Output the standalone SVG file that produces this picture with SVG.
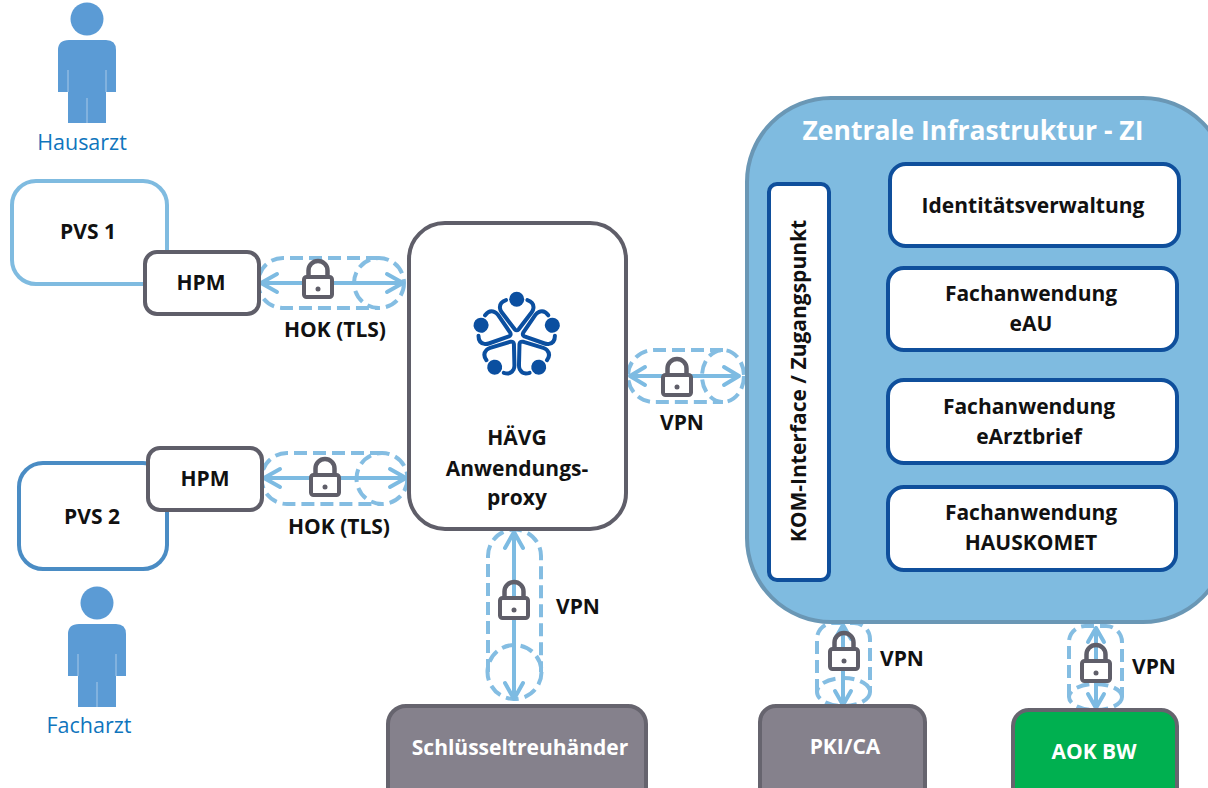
<svg xmlns="http://www.w3.org/2000/svg" width="1208" height="788" viewBox="0 0 1208 788">
<style>
text{font-family:"Open Sans","Noto Sans","Liberation Sans",sans-serif;font-weight:700;font-size:21px;fill:#111;text-anchor:middle}
.w{fill:#fff}
.role{font-weight:400;font-size:21.500px;fill:#0f75bd}
.box{fill:#fff;stroke:#5f5e69;stroke-width:4}
.dark{fill:#85818c;stroke:#66646e;stroke-width:4}
.app{fill:#fff;stroke:#0f4f9c;stroke-width:4}
.tun{fill:none;stroke:#84bde2;stroke-width:4;stroke-dasharray:13 6}
.arr{fill:none;stroke:#7dbbe2;stroke-width:4;stroke-linecap:round;stroke-linejoin:round}
.lb{fill:#fff;stroke:#5f5e69;stroke-width:4;stroke-linejoin:round}
.logo{fill:none;stroke:#0b4fa0;stroke-width:4;stroke-linecap:round;stroke-linejoin:round}
</style>
<defs>
<g id="lock">
<path d="M-9.500 -8V-14.500A9.500 9.500 0 0 1 9.500 -14.500V-8" fill="none" stroke="#5f5e69" stroke-width="4.500"/>
<rect class="lb" x="-14" y="-8" width="28" height="20" rx="2.500"/>
<circle cx="0" cy="4" r="2.500" fill="#5f5e69"/>
</g>
<g id="person">
<circle cx="0" cy="0" r="16.500" fill="#5b9bd5"/>
<path d="M-18 21H19Q29 21 29 31V73H19V104H-19V73H-29V31Q-29 21 -18 21Z" fill="#5b9bd5"/>
<path d="M-19 51V73M19 51V73M0 79V104" stroke="#a9c9e8" stroke-width="1" fill="none"/>
</g>
<g id="steth">
<circle cx="0" cy="-37.500" r="7.500" fill="#0b4fa0"/>
<path class="logo" d="M-10.700 -36.700Q-17.500 -34.500 -16.700 -28.500Q-16.500 -26.500 -15 -24.500L-2 -7.500Q0 -5.500 2 -7.500L15 -24.500Q16.500 -26.500 16.700 -28.500Q17.500 -34.500 10.700 -36.700"/>
</g>
</defs>

<g id="connectors">
<path class="tun" d="M379 258H283A25 25 0 0 0 283 308H379"/><circle class="tun" cx="379" cy="283" r="25"/>
<path class="arr" d="M261 283H403M277 274L261 283L277 292M387 274L403 283L387 292"/>
<path class="tun" d="M383 453H287A25.500 25.500 0 0 0 287 504H383"/><circle class="tun" cx="382" cy="478.500" r="25.500"/>
<path class="arr" d="M264 478H406M280 469L264 478L280 487M390 469L406 478L390 487"/>
<path class="tun" d="M723 350H654A26 26 0 0 0 654 402H723"/><ellipse class="tun" cx="723" cy="376" rx="21" ry="26"/>
<path class="arr" d="M630 376H739M645 367L630 376L645 385M724 367L739 376L724 385"/>
<path class="tun" d="M488 672V556A26.500 26.500 0 0 1 541 556V672"/><circle class="tun" cx="514.500" cy="672" r="27"/>
<path class="arr" d="M514 532V699M505 548L514 532L523 548M505 683L514 699L523 683"/>
<path class="tun" d="M817 692V639A16 16 0 0 1 833 623H854A16 16 0 0 1 870 639V692"/><ellipse class="tun" cx="843.500" cy="692" rx="26.500" ry="14"/>
<path class="arr" d="M843 625V705M835 639L843 625L851 639M835 691L843 705L851 691"/>
<path class="tun" d="M1069 697V642A16 16 0 0 1 1085 626H1106A16 16 0 0 1 1122 642V697"/><ellipse class="tun" cx="1095.500" cy="697" rx="26.500" ry="13"/>
<path class="arr" d="M1096 628V708M1088 642L1096 628L1104 642M1088 694L1096 708L1104 694"/>
</g>

<g id="hausarzt"><use href="#person" x="87" y="19"/><text class="role" x="82" y="150">Hausarzt</text></g>
<g id="facharzt"><use href="#person" x="97" y="603"/><text class="role" x="89" y="733">Facharzt</text></g>

<g id="pvs1"><rect x="12" y="181" width="155" height="103" rx="24" fill="#fff" stroke="#7fbbe0" stroke-width="4"/><text x="88" y="239">PVS 1</text></g>
<g id="pvs2"><rect x="19" y="463" width="148" height="106" rx="24" fill="#fff" stroke="#4a8cc4" stroke-width="4"/><text x="92" y="524">PVS 2</text></g>
<g id="hpm1"><rect class="box" x="145" y="252" width="114" height="62" rx="12"/><text x="201" y="290">HPM</text></g>
<g id="hpm2"><rect class="box" x="148" y="448" width="114" height="62" rx="12"/><text x="205" y="486">HPM</text></g>

<g id="lock-hok1"><use href="#lock" x="318" y="285"/></g>
<text id="label-hok1" x="335" y="337">HOK (TLS)</text>
<g id="lock-hok2"><use href="#lock" x="325" y="483"/></g>
<text id="label-hok2" x="339" y="534">HOK (TLS)</text>

<g id="proxy">
<rect class="box" x="409" y="223" width="217" height="306" rx="36"/>
<g id="logo">
<use href="#steth" transform="translate(516.700 336.800)"/>
<use href="#steth" transform="translate(516.700 336.800) rotate(72)"/>
<use href="#steth" transform="translate(516.700 336.800) rotate(144)"/>
<use href="#steth" transform="translate(516.700 336.800) rotate(216)"/>
<use href="#steth" transform="translate(516.700 336.800) rotate(288)"/>
</g>
<text x="517" y="445">HÄVG</text><text x="517" y="476">Anwendungs-</text><text x="517" y="505">proxy</text>
</g>

<g id="zi">
<rect x="747" y="98" width="480" height="524" rx="84" fill="#7fbbe0" stroke="#6a97b5" stroke-width="4"/>
<text class="w" x="973" y="140" style="font-size:26.500px">Zentrale Infrastruktur - ZI</text>
</g>
<g id="kom"><rect class="app" x="769" y="184" width="60" height="396" rx="8"/><text transform="translate(806 381) rotate(-90)">KOM-Interface / Zugangspunkt</text></g>
<g id="idv"><rect class="app" x="890" y="164" width="289" height="82" rx="16"/><text x="1033" y="213">Identitätsverwaltung</text></g>
<g id="eau"><rect class="app" x="888" y="268" width="289" height="82" rx="16"/><text x="1031" y="301">Fachanwendung</text><text x="1031" y="331">eAU</text></g>
<g id="earzt"><rect class="app" x="888" y="380" width="289" height="83" rx="16"/><text x="1029" y="414">Fachanwendung</text><text x="1029" y="444">eArztbrief</text></g>
<g id="hauskomet"><rect class="app" x="888" y="487" width="288" height="83" rx="16"/><text x="1031" y="520">Fachanwendung</text><text x="1031" y="550">HAUSKOMET</text></g>

<g id="lock-vpn1"><use href="#lock" x="677" y="383"/></g>
<text id="label-vpn1" x="682" y="430">VPN</text>
<g id="lock-vpn2"><use href="#lock" x="514" y="606"/></g>
<text id="label-vpn2" x="578" y="614">VPN</text>
<g id="lock-vpn3"><use href="#lock" x="844" y="657"/></g>
<text id="label-vpn3" x="902" y="666">VPN</text>
<g id="lock-vpn4"><use href="#lock" x="1096" y="669"/></g>
<text id="label-vpn4" x="1154" y="674">VPN</text>

<g id="schluessel"><rect class="dark" x="388" y="706" width="258" height="100" rx="18"/><text class="w" x="520" y="755">Schlüsseltreuhänder</text></g>
<g id="pki"><rect class="dark" x="760" y="706" width="165" height="100" rx="16"/><text class="w" x="845" y="754">PKI/CA</text></g>
<g id="aok"><rect x="1013" y="710" width="164" height="100" rx="16" fill="#00b050" stroke="#66646e" stroke-width="4"/><text class="w" x="1094" y="759">AOK BW</text></g>
</svg>
